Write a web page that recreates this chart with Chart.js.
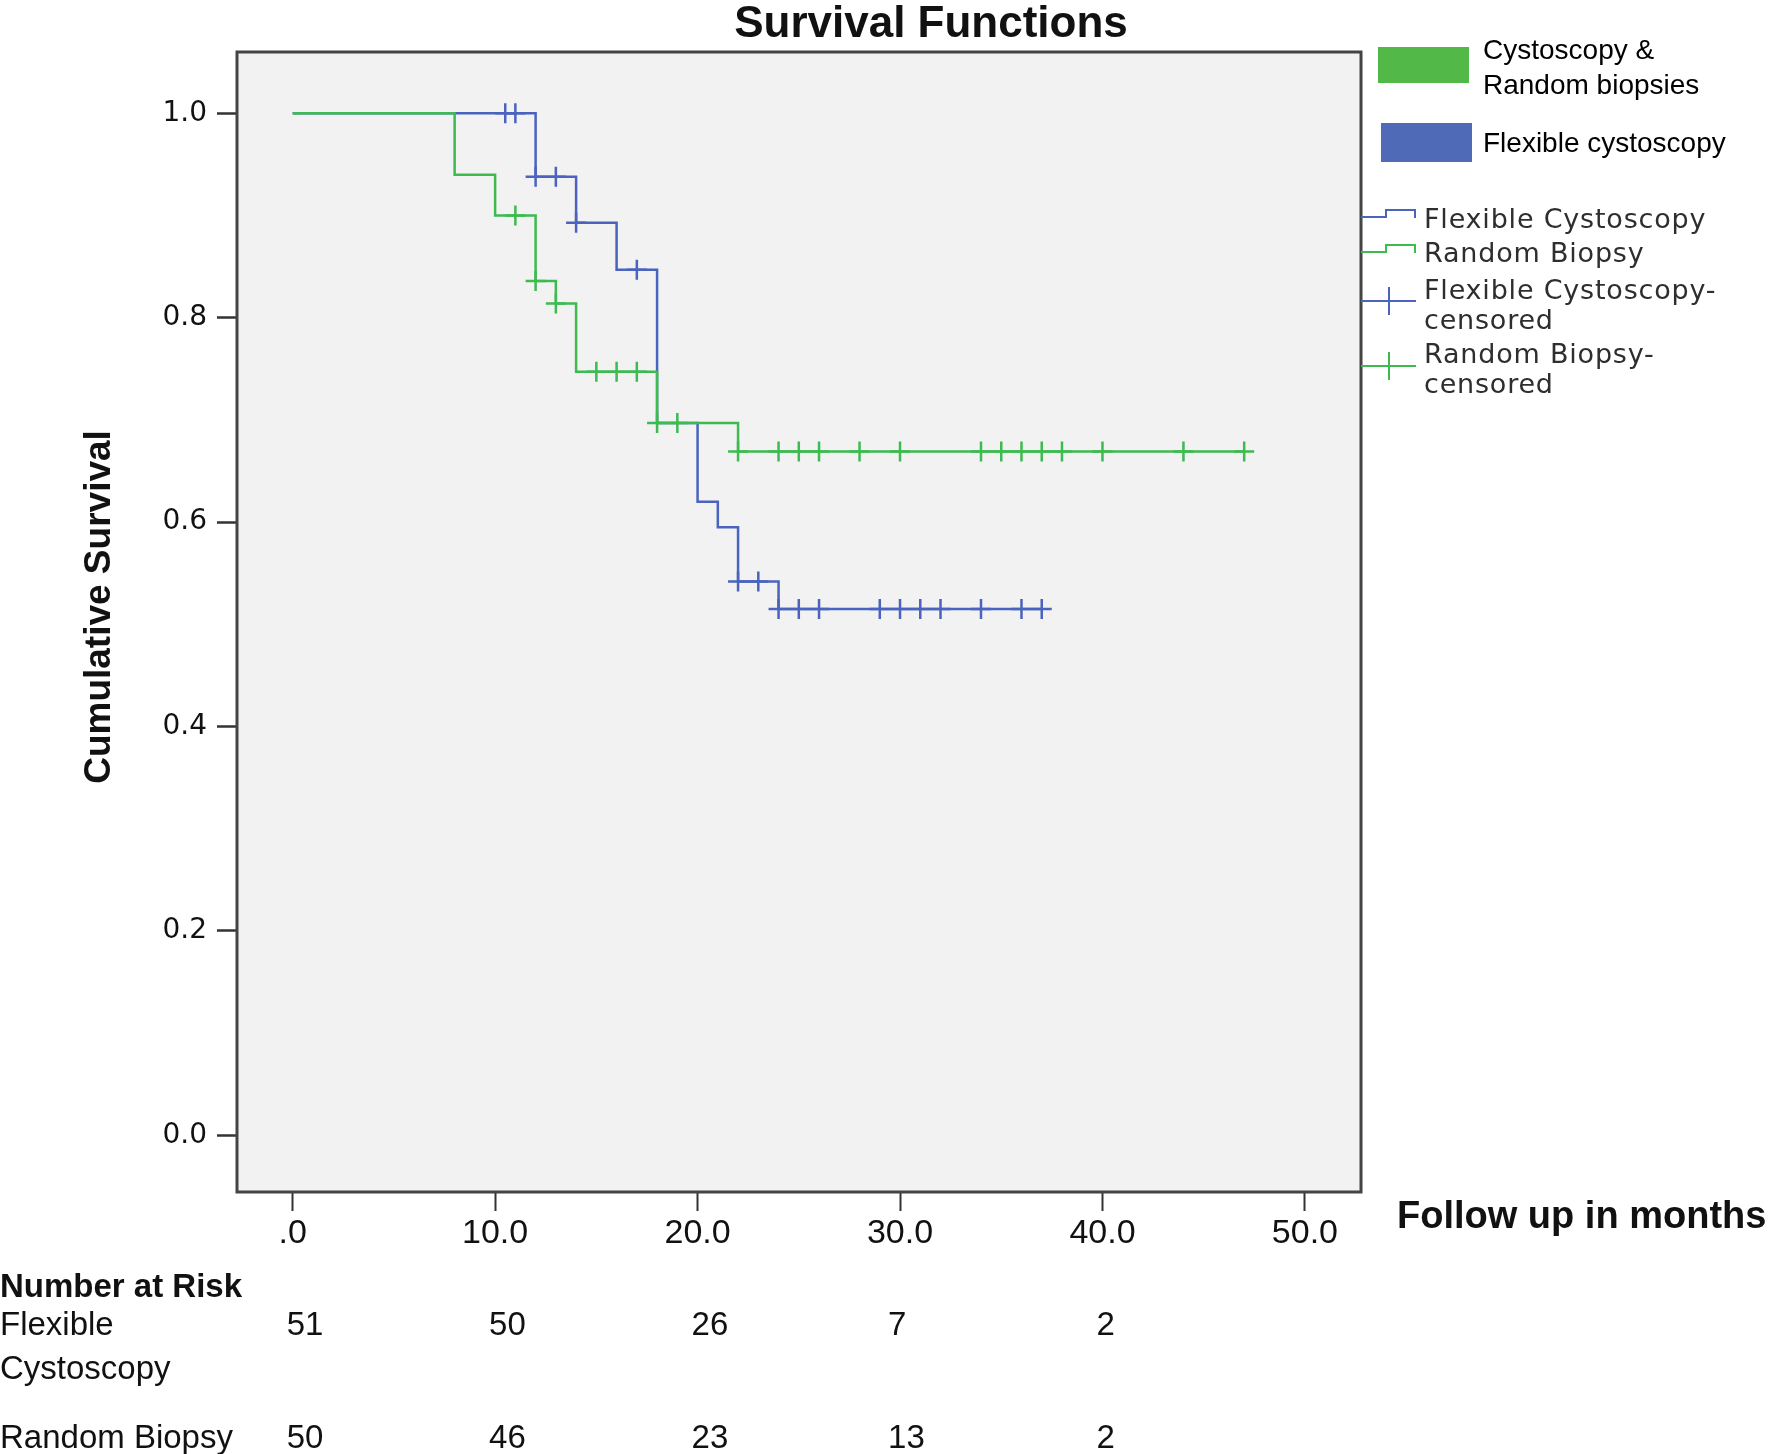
<!DOCTYPE html>
<html><head><meta charset="utf-8">
<script src="https://cdn.jsdelivr.net/npm/chart.js@4/dist/chart.umd.min.js"></script>
<style>html,body{margin:0;padding:0;background:#fff;} #wrap{width:1770px;height:1454px;position:relative;}</style>
</head><body><div id="wrap"><canvas id="c" width="1770" height="1454"></canvas></div>
<script>
// ---------- data ----------
const chartTitle = 'Survival Functions';
const xTitle = 'Follow up in months';
const yTitle = 'Cumulative Survival';
const xTickValues = [0, 10, 20, 30, 40, 50];
const xTickLabels = ['.0', '10.0', '20.0', '30.0', '40.0', '50.0'];
const yTickValues = [0, 0.2, 0.4, 0.6, 0.8, 1.0];
const yTickLabels = ['0.0', '0.2', '0.4', '0.6', '0.8', '1.0'];

// Kaplan-Meier step points (time, survival) - Flexible Cystoscopy
const flexTimes = [0, 12, 14, 16, 18, 20, 21, 22, 24, 37];
const flexSurv  = [1.0, 0.938, 0.893, 0.847, 0.697, 0.620, 0.595, 0.542, 0.515, 0.515];
const flexCensTimes = [10.5, 11, 12, 13, 14, 17, 22, 23, 24, 25, 26, 29, 30, 31, 32, 34, 36, 37];
const flexCensSurv  = [1.0, 1.0, 0.938, 0.938, 0.893, 0.847, 0.542, 0.542, 0.515, 0.515, 0.515, 0.515, 0.515, 0.515, 0.515, 0.515, 0.515, 0.515];

// Random Biopsy
const randTimes = [0, 8, 10, 12, 13, 14, 18, 22, 47];
const randSurv  = [1.0, 0.94, 0.90, 0.836, 0.814, 0.747, 0.697, 0.669, 0.669];
const randCensTimes = [11, 12, 13, 15, 16, 17, 18, 19, 22, 24, 25, 26, 28, 30, 34, 35, 36, 37, 38, 40, 44, 47];
const randCensSurv  = [0.90, 0.836, 0.814, 0.747, 0.747, 0.747, 0.697, 0.697, 0.669, 0.669, 0.669, 0.669, 0.669, 0.669, 0.669, 0.669, 0.669, 0.669, 0.669, 0.669, 0.669, 0.669];

// Number at risk
const riskTitle = 'Number at Risk';
const riskTimes = [0, 10, 20, 30, 40];
const riskFlex = [51, 50, 26, 7, 2];
const riskRand = [50, 46, 23, 13, 2];
const riskRowLabels = [['Flexible', 'Cystoscopy'], ['Random Biopsy']];

// Legends
const boxLegend = [['Cystoscopy &', 'Random biopsies'], ['Flexible cystoscopy']];
const stepLegend = [['Flexible Cystoscopy'], ['Random Biopsy'], ['Flexible Cystoscopy-', 'censored'], ['Random Biopsy-', 'censored']];

// ---------- styles ----------
const GREEN = '#3dba50';
const BLUE = '#4963be';
const SANS = '"Liberation Sans", Arial, sans-serif';
const DEJAVU = '"DejaVu Sans", sans-serif';

const toXY = (xs, ys) => xs.map((x, i) => ({x: x, y: ys[i]}));

const decor = {
  id: 'decor',
  beforeDraw(chart) {
    const {ctx, chartArea: a} = chart;
    ctx.save();
    ctx.fillStyle = '#ffffff';
    ctx.fillRect(0, 0, chart.width, chart.height);
    ctx.fillStyle = '#f2f2f2';
    ctx.fillRect(a.left, a.top, a.right - a.left, a.bottom - a.top);
    ctx.restore();
  },
  afterDraw(chart) {
    const {ctx, chartArea: a} = chart;
    const xs = chart.scales.x;
    ctx.save();
    // plot frame
    ctx.strokeStyle = '#444';
    ctx.lineWidth = 3;
    ctx.strokeRect(a.left, a.top, a.right - a.left, a.bottom - a.top);

    // title
    ctx.fillStyle = '#111';
    ctx.textAlign = 'center';
    ctx.textBaseline = 'alphabetic';
    ctx.font = 'bold 44px ' + SANS;
    ctx.fillText(chartTitle, 931, 37);

    // y title
    ctx.save();
    ctx.translate(100, 607);
    ctx.rotate(-Math.PI / 2);
    ctx.textBaseline = 'middle';
    ctx.font = 'bold 37px ' + SANS;
    ctx.fillText(yTitle, 0, 0);
    ctx.restore();

    // x title
    ctx.textAlign = 'left';
    ctx.font = 'bold 38px ' + SANS;
    ctx.fillText(xTitle, 1397, 1228);

    // number at risk
    ctx.font = 'bold 33px ' + SANS;
    ctx.fillText(riskTitle, 0, 1297);
    ctx.font = '33px ' + SANS;
    ctx.fillText(riskRowLabels[0][0], 0, 1335);
    ctx.fillText(riskRowLabels[0][1], 0, 1379);
    ctx.fillText(riskRowLabels[1][0], 0, 1448);
    riskTimes.forEach((t, i) => {
      const px = xs.getPixelForValue(t);
      ctx.textAlign = 'left';
      ctx.fillText(String(riskFlex[i]), px - (t === 30 ? 12 : 6), 1335);
      ctx.fillText(String(riskRand[i]), px - (t === 30 ? 12 : 6), 1448);
    });

    // box legend
    ctx.fillStyle = '#52b848';
    ctx.fillRect(1378, 47, 91, 36);
    ctx.fillStyle = '#4f6bb8';
    ctx.fillRect(1381, 123, 91, 39);
    ctx.fillStyle = '#000';
    ctx.font = '28px ' + SANS;
    ctx.fillText(boxLegend[0][0], 1483, 59);
    ctx.fillText(boxLegend[0][1], 1483, 94);
    ctx.fillText(boxLegend[1][0], 1483, 152);

    // step legend
    ctx.lineWidth = 2;
    const stepIcon = (yb, col) => {
      ctx.strokeStyle = col;
      ctx.beginPath();
      ctx.moveTo(1361, yb);
      ctx.lineTo(1386, yb);
      ctx.lineTo(1386, yb - 7);
      ctx.lineTo(1415, yb - 7);
      ctx.lineTo(1415, yb + 1);
      ctx.stroke();
    };
    stepIcon(217, BLUE);
    stepIcon(252, GREEN);
    const censIcon = (yc, col) => {
      ctx.strokeStyle = col;
      ctx.beginPath();
      ctx.moveTo(1361, yc); ctx.lineTo(1416, yc);
      ctx.moveTo(1389, yc - 14); ctx.lineTo(1389, yc + 14);
      ctx.stroke();
    };
    censIcon(301, BLUE);
    censIcon(366, GREEN);
    ctx.fillStyle = '#2e2e2e';
    ctx.font = '27px ' + DEJAVU;
    try { ctx.letterSpacing = '0.8px'; } catch (e) {}
    ctx.fillText(stepLegend[0][0], 1424, 228);
    ctx.fillText(stepLegend[1][0], 1424, 262);
    ctx.fillText(stepLegend[2][0], 1424, 299);
    ctx.fillText(stepLegend[2][1], 1424, 329);
    ctx.fillText(stepLegend[3][0], 1424, 363);
    ctx.fillText(stepLegend[3][1], 1424, 393);
    ctx.restore();
  }
};

new Chart(document.getElementById('c'), {
  type: 'line',
  data: {
    datasets: [
      {label: 'Random Biopsy-censored', data: toXY(randCensTimes, randCensSurv), showLine: false,
       pointStyle: 'cross', pointRadius: 10, pointBorderWidth: 2.5, borderColor: GREEN, backgroundColor: GREEN, order: 0},
      {label: 'Random Biopsy', data: toXY(randTimes, randSurv), stepped: 'before', borderColor: GREEN,
       borderWidth: 2.5, pointRadius: 0, fill: false, order: 1},
      {label: 'Flexible Cystoscopy-censored', data: toXY(flexCensTimes, flexCensSurv), showLine: false,
       pointStyle: 'cross', pointRadius: 10, pointBorderWidth: 2.5, borderColor: BLUE, backgroundColor: BLUE, order: 2},
      {label: 'Flexible Cystoscopy', data: toXY(flexTimes, flexSurv), stepped: 'before', borderColor: BLUE,
       borderWidth: 2.5, pointRadius: 0, fill: false, order: 3}
    ]
  },
  options: {
    responsive: false,
    animation: false,
    devicePixelRatio: 1,
    layout: {padding: {left: 0, top: 52, right: 409, bottom: 0}},
    plugins: {legend: {display: false}, tooltip: {enabled: false}, title: {display: false}},
    scales: {
      x: {
        type: 'linear', min: -2.75, max: 52.77,
        afterBuildTicks: s => { s.ticks = xTickValues.map(v => ({value: v})); },
        afterFit: s => { s.height = 262; },
        ticks: {
          autoSkip: false, maxRotation: 0, padding: 2, color: '#111',
          font: {family: SANS, size: 34},
          callback: (v, i) => xTickLabels[i]
        },
        grid: {display: true, drawOnChartArea: false, drawTicks: true, tickLength: 19, tickColor: '#333', tickWidth: 2},
        border: {display: false}
      },
      y: {
        type: 'linear', min: -0.0555, max: 1.060,
        afterBuildTicks: s => { s.ticks = yTickValues.map(v => ({value: v})); },
        afterFit: s => { s.width = 237; },
        ticks: {
          autoSkip: false, padding: 10, color: '#111',
          font: {family: DEJAVU, size: 28},
          callback: (v, i) => yTickLabels[i]
        },
        grid: {display: true, drawOnChartArea: false, drawTicks: true, tickLength: 20, tickColor: '#333', tickWidth: 2.5},
        border: {display: false}
      }
    }
  },
  plugins: [decor]
});
</script>
</body></html>
